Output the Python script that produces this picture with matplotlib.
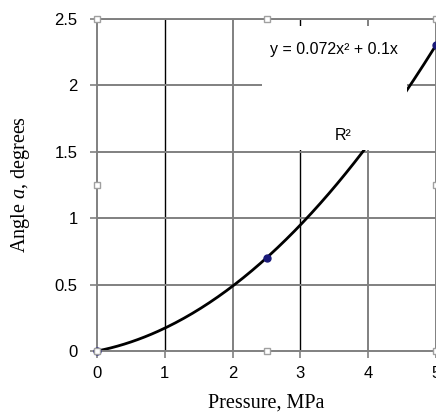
import matplotlib.pyplot as plt
from matplotlib.patches import Rectangle
import numpy as np

plt.rcParams['mathtext.fontset'] = 'custom'
plt.rcParams['mathtext.it'] = 'Liberation Serif:italic'
plt.rcParams['mathtext.rm'] = 'Liberation Serif'

# measured points and the trendline shown on the chart
pressure = [0, 2.5, 5]
angle = [0, 0.7, 2.3]
trend_coef = [0.072, 0.1, 0]   # y = 0.072x^2 + 0.1x
x_ticks = [0, 1, 2, 3, 4, 5]
y_ticks = [0, 0.5, 1, 1.5, 2, 2.5]
y_tick_labels = ['0', '0.5', '1', '1.5', '2', '2.5']

fig = plt.figure(figsize=(4.36, 4.15), dpi=100)
ax = fig.add_axes([0.2225, 0.1542, 0.7775, 0.8012])

ax.set_xlim(0, 5)
ax.set_ylim(0, 2.5)

# grid lines (x=1 and x=3 come out darker in the original)
for xv in x_ticks[1:]:
    c = 'black' if xv in (1, 3) else '#808080'
    lw = 1.0 if xv in (1, 3) else 1.4
    ax.axvline(xv, color=c, linewidth=lw, zorder=1)
for yv in y_ticks[1:]:
    ax.axhline(yv, color='#808080', linewidth=1.4, zorder=1)

for s in ax.spines.values():
    s.set_color('#808080')
    s.set_linewidth(1.4)
ax.spines['right'].set_visible(False)

ax.set_xticks(x_ticks)
ax.set_yticks(y_ticks)
ax.set_yticklabels(y_tick_labels)
ax.tick_params(direction='out', length=5, width=1.2, color='#808080',
               labelsize=12)
ax.tick_params(axis='y', pad=9)
ax.tick_params(axis='x', pad=6)
for lab in ax.get_xticklabels() + ax.get_yticklabels():
    lab.set_fontfamily('Liberation Sans')

# trendline
xs = np.linspace(0, 5, 200)
ax.plot(xs, np.polyval(trend_coef, xs), color='black', linewidth=2, zorder=2)
ax.plot(pressure, angle, 'o', color='#1a1a7a', markersize=5, zorder=4,
        clip_on=False)

# white label area covering the trendline
ax.add_patch(Rectangle((2.43, 1.515), 2.14, 0.93, facecolor='white',
                       edgecolor='none', zorder=3))
ax.text(3.5, 2.27, 'y = 0.072x² + 0.1x', ha='center', va='center',
        fontsize=11.5, family='Liberation Sans', zorder=5)
ax.text(3.63, 1.62, 'R²', ha='center', va='center', fontsize=11.5,
        family='Liberation Sans', zorder=5)

# selection handles
hx = [0, 2.5, 5, 0, 5, 0, 2.5, 5]
hy = [2.5, 2.5, 2.5, 1.25, 1.25, 0, 0, 0]
ax.plot(hx, hy, 's', markersize=5, markerfacecolor='white',
        markeredgecolor='#a0a0a0', markeredgewidth=1, zorder=6, clip_on=False)

ax.set_xlabel('Pressure, MPa', fontsize=14.5, family='Liberation Serif',
              labelpad=9)
ax.set_ylabel('Angle $\\mathit{a}$, degrees', fontsize=14.5,
              family='Liberation Serif', labelpad=16)

fig.savefig('out.png', dpi=100)
